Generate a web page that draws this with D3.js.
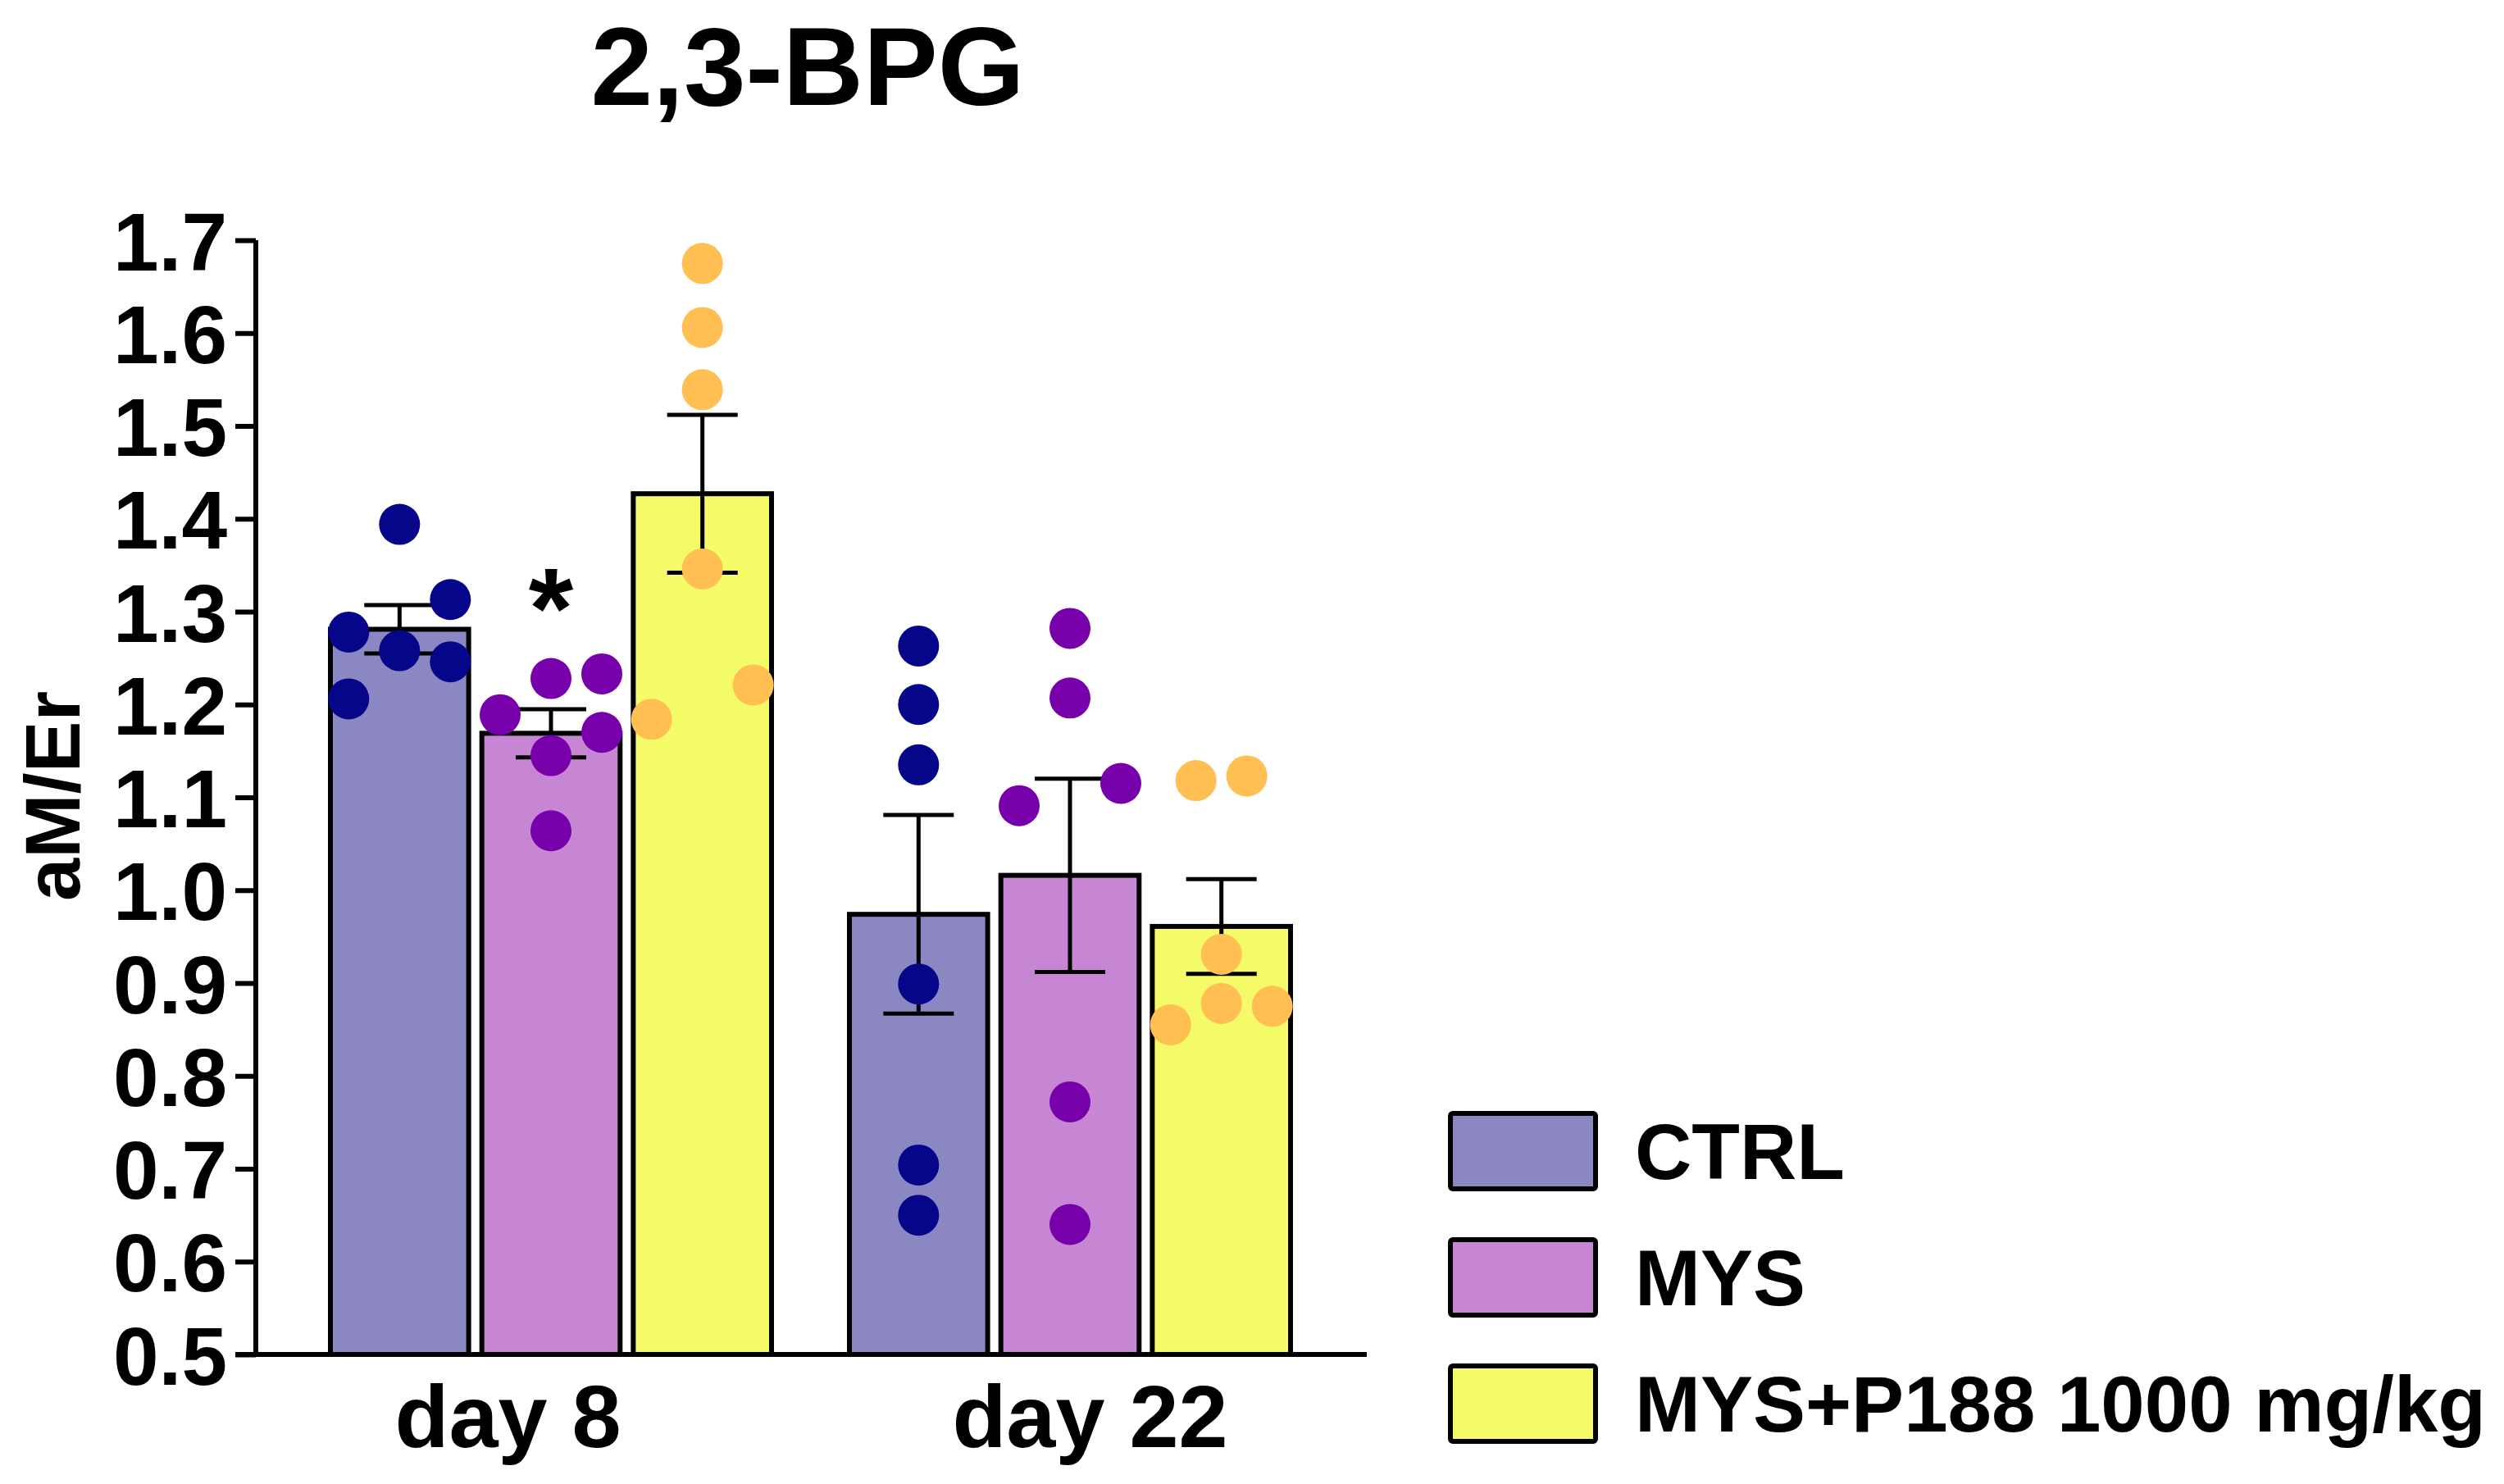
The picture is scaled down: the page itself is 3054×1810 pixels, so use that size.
<!DOCTYPE html>
<html>
<head>
<meta charset="utf-8">
<script src="https://cdn.jsdelivr.net/npm/d3@7"></script>
<style>
  body { margin: 0; background: #fff; }
  text { font-family: "Liberation Sans", Arial, sans-serif; font-weight: bold; }
</style>
</head>
<body>
<div id="chart"></div>
<script>
// groupes et séries
const days = ["day 8", "day 22"];
const series = ["CTRL", "MYS", "MYS+P188 1000 mg/kg"];
const yTicks = [0.5, 0.6, 0.7, 0.8, 0.9, 1.0, 1.1, 1.2, 1.3, 1.4, 1.5, 1.6, 1.7];

// moyennes et SEM (day 8, day 22)
const ctrlMean = [1.281, 0.974];
const mysMean = [1.169, 1.016];
const p188Mean = [1.427, 0.961];
const ctrlSem = [0.026, 0.107];
const mysSem = [0.026, 0.104];
const p188Sem = [0.085, 0.051];

// points individuels
const ctrlPts = [[1.394, 1.313, 1.278, 1.258, 1.246, 1.206], [1.263, 1.200, 1.135, 0.899, 0.704, 0.650]];
const mysPts = [[1.228, 1.233, 1.189, 1.170, 1.145, 1.064], [1.282, 1.207, 1.115, 1.091, 0.772, 0.640]];
const p188Pts = [[1.675, 1.606, 1.539, 1.346, 1.221, 1.184], [1.123, 1.118, 0.931, 0.878, 0.875, 0.855]];
// colonne de chaque point (dispersion horizontale, en demi-pas)
const ctrlSlots = [[0, 2, -2, 0, 2, -2], [0, 0, 0, 0, 0, 0]];
const mysSlots = [[0, 2, -2, 2, 0, 0], [0, 0, 2, -2, 0, 0]];
const p188Slots = [[0, 0, 0, 0, 2, -2], [1, -1, 0, 0, 2, -2]];

const fills = ["#8b87c3", "#c686d4", "#f4fa68"];
const dotColors = ["#06068a", "#7700aa", "#ffbf52"];

const means = [ctrlMean, mysMean, p188Mean];
const sems = [ctrlSem, mysSem, p188Sem];
const pts = [ctrlPts, mysPts, p188Pts];
const slots = [ctrlSlots, mysSlots, p188Slots];

const width = 3054, height = 1810;

const svg = d3.select("#chart").append("svg")
  .attr("width", width)
  .attr("height", height);

// échelles
const x0 = d3.scaleBand().domain(days).range([355, 1621]).padding(0);
const x1 = d3.scaleBand().domain(series).range([48, 586]).paddingInner(0.087).paddingOuter(0);
const y = d3.scaleLinear().domain([0.5, 1.7]).range([1652, 293]);

const bars = [];
series.forEach((s, si) => {
  days.forEach((d, di) => {
    bars.push({ s, si, d, di, mean: means[si][di], sem: sems[si][di] });
  });
});

const cx = b => x0(b.d) + x1(b.s) + x1.bandwidth() / 2;

// barres
svg.selectAll(".bar")
  .data(bars)
  .enter()
  .append("rect")
  .attr("class", "bar")
  .attr("x", b => x0(b.d) + x1(b.s))
  .attr("y", b => y(b.mean))
  .attr("width", x1.bandwidth())
  .attr("height", b => y(0.5) - y(b.mean))
  .attr("fill", b => fills[b.si])
  .attr("stroke", "#000")
  .attr("stroke-width", 6);

// barres d'erreur
const err = svg.selectAll(".err")
  .data(bars)
  .enter()
  .append("g")
  .attr("class", "err")
  .attr("stroke", "#000")
  .attr("stroke-width", 5);

err.append("line")
  .attr("x1", cx).attr("x2", cx)
  .attr("y1", b => y(b.mean + b.sem))
  .attr("y2", b => y(b.mean - b.sem));
err.append("line")
  .attr("x1", b => cx(b) - 43).attr("x2", b => cx(b) + 43)
  .attr("y1", b => y(b.mean + b.sem)).attr("y2", b => y(b.mean + b.sem));
err.append("line")
  .attr("x1", b => cx(b) - 43).attr("x2", b => cx(b) + 43)
  .attr("y1", b => y(b.mean - b.sem)).attr("y2", b => y(b.mean - b.sem));

// points
const dots = [];
series.forEach((s, si) => {
  days.forEach((d, di) => {
    pts[si][di].forEach((v, k) => {
      dots.push({ s, si, d, v, slot: slots[si][di][k] });
    });
  });
});

svg.selectAll(".dot")
  .data(dots)
  .enter()
  .append("circle")
  .attr("class", "dot")
  .attr("cx", p => x0(p.d) + x1(p.s) + x1.bandwidth() / 2 + p.slot * 31)
  .attr("cy", p => y(p.v))
  .attr("r", 25)
  .attr("fill", p => dotColors[p.si]);

// axes
const yAxis = svg.append("g")
  .attr("transform", "translate(312,0)")
  .call(d3.axisLeft(y).tickValues(yTicks).tickFormat(d3.format(".1f")).tickSize(25).tickPadding(10));
yAxis.select(".domain").attr("stroke-width", 6).attr("d", `M0,${y(1.7)}V${y(0.5)}`);
yAxis.selectAll(".tick line").attr("stroke-width", 6);
yAxis.selectAll("text")
  .style("font-size", "100px")
  .style("font-weight", "bold")
  .style("fill", "#000")
  .attr("dy", "0.36em");

const xAxis = svg.append("g")
  .attr("transform", `translate(0,${y(0.5)})`)
  .call(d3.axisBottom(x0).tickSize(0).tickPadding(0));
xAxis.select(".domain").attr("stroke-width", 6).attr("d", "M287,0H1667");
const labelShift = { "day 8": -52, "day 22": 25 };
xAxis.selectAll("text")
  .style("font-size", "108px")
  .style("font-weight", "bold")
  .style("fill", "#000")
  .attr("dy", 0)
  .attr("y", 113)
  .attr("dx", d => labelShift[d]);

// astérisque de significativité
svg.append("text")
  .attr("x", x0("day 8") + x1("MYS") + x1.bandwidth() / 2)
  .attr("y", 790)
  .attr("text-anchor", "middle")
  .style("font-size", "140px")
  .text("*");

// titre
svg.append("text")
  .attr("x", 985)
  .attr("y", 128)
  .attr("text-anchor", "middle")
  .style("font-size", "136px")
  .text("2,3-BPG");

// titre de l'axe Y
svg.append("text")
  .attr("transform", "translate(97,971) rotate(-90)")
  .attr("text-anchor", "middle")
  .style("font-size", "94px")
  .text("aM/Er");

// légende
const ly = d3.scalePoint().domain(series).range([1404, 1712]);
const legend = svg.selectAll(".legend")
  .data(series)
  .enter()
  .append("g")
  .attr("class", "legend")
  .attr("transform", s => `translate(1769,${ly(s)})`);

legend.append("rect")
  .attr("x", 0)
  .attr("y", -46)
  .attr("width", 177)
  .attr("height", 92)
  .attr("rx", 3)
  .attr("fill", (s, i) => fills[i])
  .attr("stroke", "#000")
  .attr("stroke-width", 6);

legend.append("text")
  .attr("x", 225)
  .attr("y", 34)
  .style("font-size", "96px")
  .text(s => s);
</script>
</body>
</html>
